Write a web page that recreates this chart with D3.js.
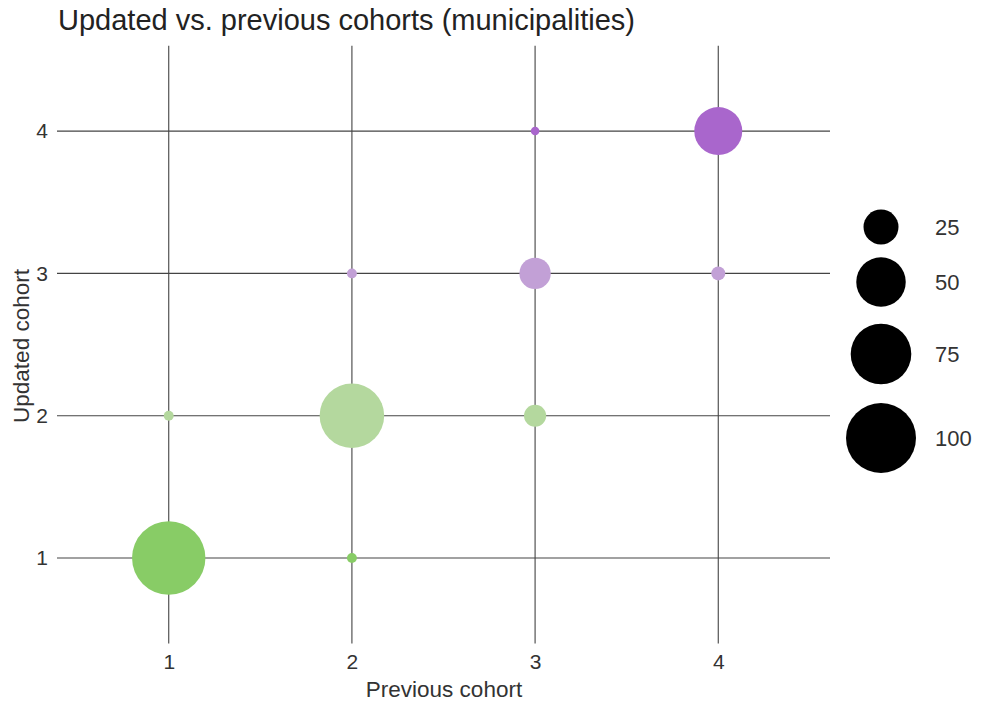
<!DOCTYPE html>
<html><head><meta charset="utf-8">
<script src="https://cdn.jsdelivr.net/npm/d3@7"></script>
<style>body{margin:0;background:#fff;} text{font-family:"Liberation Sans",Arial,sans-serif;}</style>
</head><body>
<svg id="c" width="981" height="706"></svg>
<script>
const previousCohort = [1, 2, 1, 2, 3, 2, 3, 4, 3, 4];
const updatedCohort  = [1, 1, 2, 2, 2, 3, 3, 3, 4, 4];
const counts         = [110, 2, 2, 85, 10, 2, 20, 4, 1.5, 47];
const tickValues = [1, 2, 3, 4];
const legendValues = [25, 50, 75, 100];
const cohortColors = ["#88cc66", "#b4d89e", "#c2a0d6", "#a966cc"];

const svg = d3.select("#c");
const x = d3.scaleLinear().domain([0.39, 4.61]).range([57, 830]);
const y = d3.scaleLinear().domain([0.4, 4.6]).range([643.4, 45.7]);
const r = d3.scaleSqrt().domain([0, 100]).range([0, 35]);
const color = d3.scaleOrdinal().domain(tickValues).range(cohortColors);

// grid
svg.append("g").selectAll("line").data(tickValues).join("line")
  .attr("x1", d => x(d)).attr("x2", d => x(d))
  .attr("y1", y.range()[1]).attr("y2", y.range()[0])
  .attr("stroke", "#444").attr("stroke-width", 1.1);
svg.append("g").selectAll("line").data(tickValues).join("line")
  .attr("y1", d => y(d)).attr("y2", d => y(d))
  .attr("x1", x.range()[0]).attr("x2", x.range()[1])
  .attr("stroke", "#444").attr("stroke-width", 1.1);

// axes (labels only)
const xAxis = svg.append("g").attr("transform", "translate(0,650)")
  .call(d3.axisBottom(x).tickValues(tickValues).tickFormat(d3.format("d")).tickSize(0).tickPadding(4));
const yAxis = svg.append("g").attr("transform", "translate(50,0)")
  .call(d3.axisLeft(y).tickValues(tickValues).tickFormat(d3.format("d")).tickSize(0).tickPadding(2));
[xAxis, yAxis].forEach(a => {
  a.select(".domain").remove();
  a.attr("font-size", null).attr("font-family", null);
  a.selectAll("text").attr("fill", "#333").style("font-size", "21px");
});

// points
const data = counts.map((v, i) => ({px: previousCohort[i], py: updatedCohort[i], v}));
svg.append("g").selectAll("circle").data(data).join("circle")
  .attr("cx", d => x(d.px)).attr("cy", d => y(d.py)).attr("r", d => r(d.v))
  .attr("fill", d => color(d.py));

// titles
svg.append("text").attr("x", 58).attr("y", 30).attr("fill", "#222")
  .style("font-size", "29px").text("Updated vs. previous cohorts (municipalities)");
svg.append("text").attr("x", 444).attr("y", 697).attr("text-anchor", "middle").attr("fill", "#333")
  .style("font-size", "22.5px").text("Previous cohort");
svg.append("text").attr("transform", "translate(29,346) rotate(-90)").attr("text-anchor", "middle").attr("fill", "#333")
  .style("font-size", "22.5px").text("Updated cohort");

// legend
const legY = [227, 282, 354, 438];
const lg = svg.append("g");
lg.selectAll("circle").data(legendValues).join("circle")
  .attr("cx", 881).attr("cy", (d, i) => legY[i]).attr("r", d => r(d)).attr("fill", "#000");
lg.selectAll("text").data(legendValues).join("text")
  .attr("x", 935).attr("y", (d, i) => legY[i] + 8).attr("fill", "#333")
  .style("font-size", "22px").text(d => d);
</script>
</body></html>
